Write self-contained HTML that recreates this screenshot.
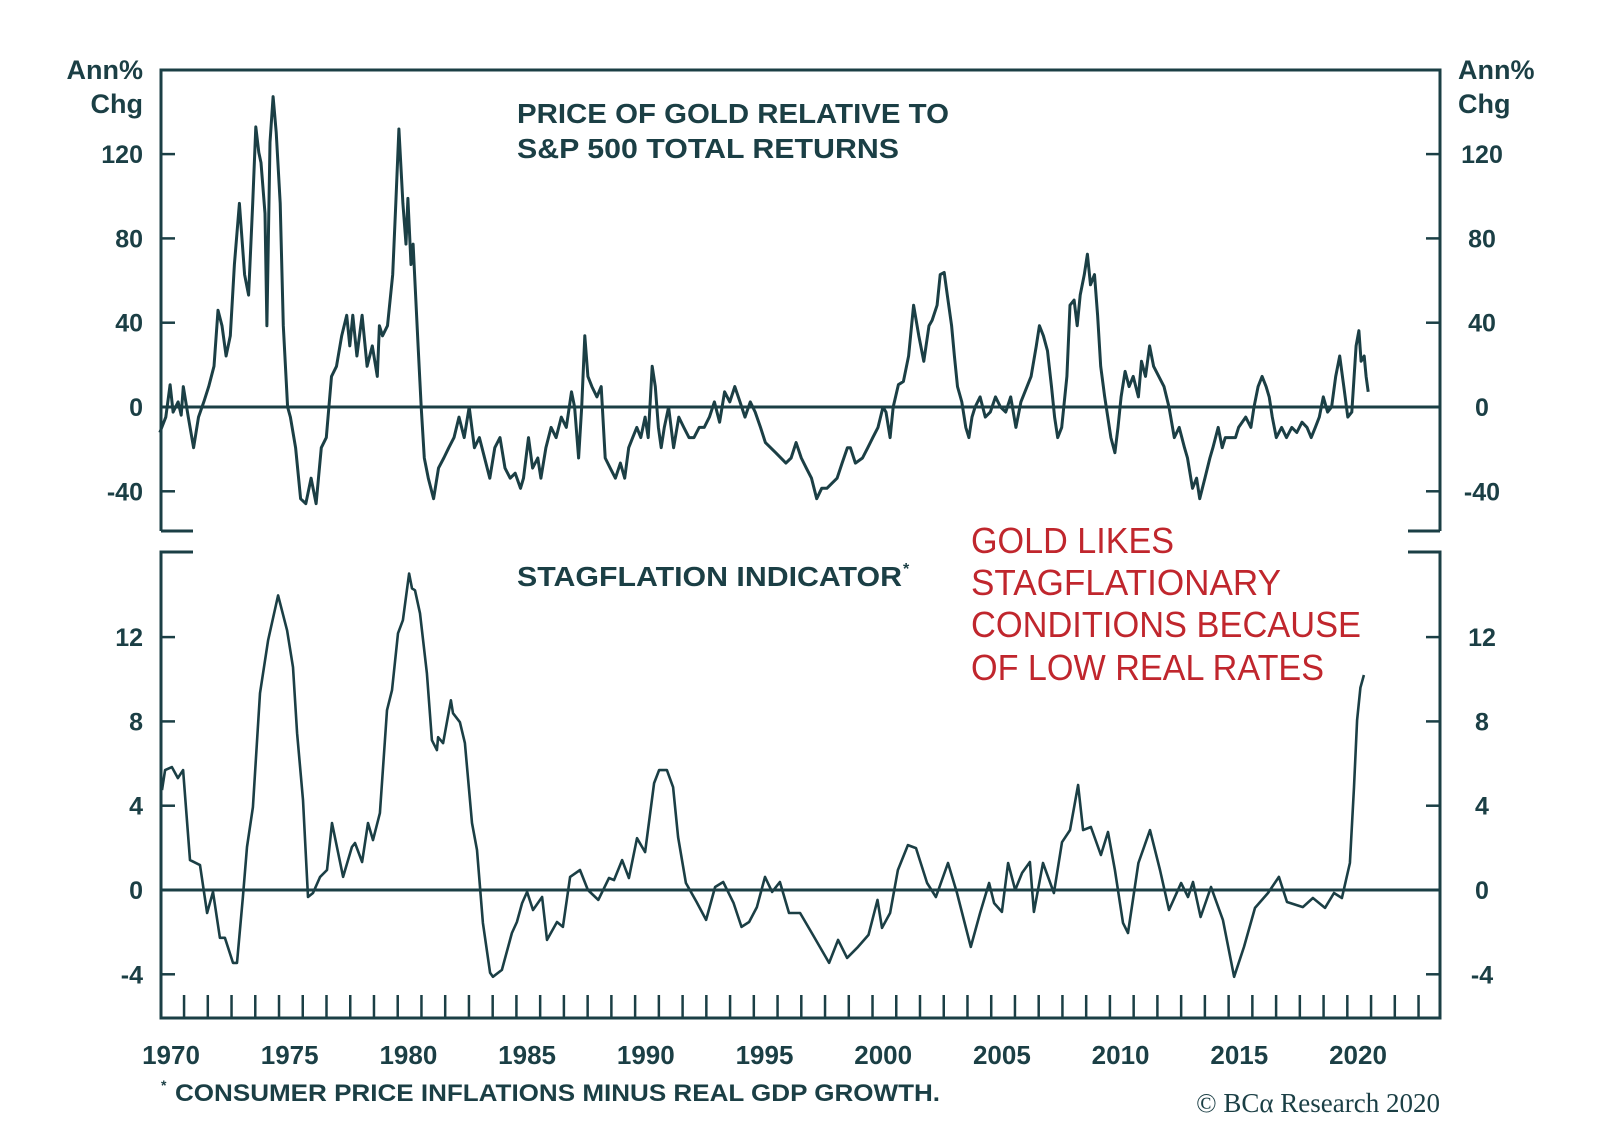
<!DOCTYPE html>
<html><head><meta charset="utf-8"><style>
html,body{margin:0;padding:0;background:#fff;}
svg{display:block;font-family:"Liberation Sans",sans-serif;}
</style></head><body>
<svg id="chart" width="1600" height="1137" viewBox="0 0 1600 1137" xmlns="http://www.w3.org/2000/svg">
<g id="frame" stroke="#1b3f45" stroke-width="3" fill="none">
  <path d="M161,531 L161,70 L1440,70 L1440,531 M161,531 L193,531 M1408,531 L1440,531"/>
  <path d="M193,552 L161,552 L161,1018 L1440,1018 L1440,552 L1408,552"/>
</g>
<g id="ticks" stroke="#1b3f45" stroke-width="2.5"></g>
<g id="labels" fill="#1b3f45" font-weight="bold"></g>
<g id="series" fill="none"></g>

<g fill="#1b3f45" font-weight="bold">
  <text x="143" y="79" font-size="27" text-anchor="end">Ann%</text>
  <text x="143" y="113" font-size="27" text-anchor="end">Chg</text>
  <text x="1458" y="79" font-size="27">Ann%</text>
  <text x="1458" y="113" font-size="27">Chg</text>
  <text x="517" y="123" font-size="28" textLength="432" lengthAdjust="spacingAndGlyphs">PRICE OF GOLD RELATIVE TO</text>
  <text x="517" y="158" font-size="28" textLength="382" lengthAdjust="spacingAndGlyphs">S&amp;P 500 TOTAL RETURNS</text>
  <text x="517" y="586" font-size="28" textLength="385" lengthAdjust="spacingAndGlyphs">STAGFLATION INDICATOR</text>
  <text x="903" y="574" font-size="16">*</text>
  <text x="175" y="1101" font-size="24" textLength="765" lengthAdjust="spacingAndGlyphs">CONSUMER PRICE INFLATIONS MINUS REAL GDP GROWTH.</text>
  <text x="161" y="1090" font-size="14">*</text>
</g>
<g fill="#c0262d" font-size="36">
  <text x="971" y="553" textLength="203" lengthAdjust="spacingAndGlyphs">GOLD LIKES</text>
  <text x="971" y="595" textLength="310" lengthAdjust="spacingAndGlyphs">STAGFLATIONARY</text>
  <text x="971" y="637" textLength="390" lengthAdjust="spacingAndGlyphs">CONDITIONS BECAUSE</text>
  <text x="971" y="680" textLength="353" lengthAdjust="spacingAndGlyphs">OF LOW REAL RATES</text>
</g>
<text x="1440" y="1112" font-family="Liberation Serif, serif" font-size="27" fill="#1b3f45" text-anchor="end">© BCα Research 2020</text>
</svg>
<script>
const goldYears = [1969.53,1969.78,1969.96,1970.09,1970.30,1970.43,1970.52,1970.73,1970.95,1971.16,1971.38,1971.59,1971.81,1971.98,1972.15,1972.32,1972.50,1972.67,1972.88,1973.10,1973.27,1973.44,1973.57,1973.70,1973.79,1973.96,1974.04,1974.17,1974.30,1974.43,1974.60,1974.73,1974.91,1975.03,1975.25,1975.46,1975.68,1975.90,1976.11,1976.33,1976.54,1976.76,1976.97,1977.19,1977.40,1977.53,1977.66,1977.83,1978.05,1978.26,1978.48,1978.69,1978.78,1978.91,1979.12,1979.34,1979.47,1979.60,1979.77,1979.90,1979.98,1980.11,1980.20,1980.41,1980.54,1980.67,1980.84,1981.06,1981.27,1981.49,1981.70,1981.92,1982.13,1982.35,1982.56,1982.78,1982.99,1983.21,1983.43,1983.64,1983.86,1984.07,1984.29,1984.50,1984.72,1984.85,1985.06,1985.23,1985.45,1985.58,1985.79,1986.01,1986.22,1986.44,1986.65,1986.87,1987.00,1987.17,1987.30,1987.43,1987.56,1987.73,1987.94,1988.12,1988.29,1988.50,1988.72,1988.93,1989.11,1989.28,1989.45,1989.62,1989.79,1989.97,1990.10,1990.27,1990.40,1990.53,1990.65,1990.78,1990.96,1991.17,1991.39,1991.60,1991.82,1992.03,1992.25,1992.46,1992.68,1992.89,1993.11,1993.32,1993.54,1993.75,1993.97,1994.18,1994.40,1994.61,1994.83,1995.04,1995.47,1995.90,1996.12,1996.33,1996.55,1996.76,1996.98,1997.20,1997.41,1997.63,1997.84,1998.06,1998.27,1998.49,1998.62,1998.83,1999.13,1999.35,1999.56,1999.78,1999.99,2000.12,2000.29,2000.42,2000.64,2000.85,2001.07,2001.28,2001.50,2001.71,2001.93,2002.06,2002.27,2002.40,2002.57,2002.70,2002.88,2003.00,2003.13,2003.31,2003.48,2003.61,2003.74,2003.87,2004.08,2004.30,2004.51,2004.73,2004.94,2005.16,2005.37,2005.59,2005.80,2006.23,2006.45,2006.58,2006.75,2006.92,2007.09,2007.22,2007.35,2007.52,2007.74,2007.87,2008.04,2008.17,2008.30,2008.47,2008.60,2008.73,2008.90,2009.03,2009.16,2009.33,2009.46,2009.59,2009.76,2009.89,2010.02,2010.19,2010.36,2010.53,2010.75,2010.88,2011.05,2011.22,2011.39,2011.61,2011.83,2012.04,2012.26,2012.47,2012.69,2012.82,2013.03,2013.20,2013.33,2013.55,2013.76,2013.89,2014.11,2014.28,2014.41,2014.84,2014.97,2015.27,2015.49,2015.62,2015.79,2015.96,2016.13,2016.26,2016.39,2016.56,2016.78,2016.99,2017.21,2017.42,2017.64,2017.85,2018.03,2018.20,2018.37,2018.54,2018.72,2018.89,2019.06,2019.23,2019.40,2019.57,2019.74,2019.92,2020.04,2020.13,2020.26,2020.34,2020.43];
const goldValues = [-12.1,-4.8,10.6,-2.4,2.4,-3.9,9.7,-4.8,-19.3,-4.8,2.4,9.7,19.3,45.9,38.6,24.2,33.8,67.6,96.6,62.8,53.1,96.6,132.9,120.8,115.9,91.8,38.6,125.6,147.3,130.4,96.6,38.6,0,-4.8,-19.3,-43.5,-45.9,-33.8,-45.9,-19.3,-14.5,14.5,19.3,33.8,43.5,29,43.5,24.2,43.5,19.3,29,14.5,38.6,33.8,38.6,62.8,96.6,131.9,96.6,77.3,99,67.6,77.3,29,0,-24.2,-33.8,-43.5,-29,-24.2,-19.3,-14.5,-4.8,-14.5,0,-19.3,-14.5,-24.2,-33.8,-19.3,-14.5,-29,-33.8,-31.4,-38.6,-33.8,-14.5,-29,-24.2,-33.8,-19.3,-9.7,-14.5,-4.8,-9.7,7.2,0,-24.2,0,33.8,14.5,9.7,4.8,9.7,-24.2,-29,-33.8,-26.6,-33.8,-19.3,-14.5,-9.7,-14.5,-4.8,-14.5,19.3,9.7,-9.7,-19.3,-9.7,0,-19.3,-4.8,-9.7,-14.5,-14.5,-9.7,-9.7,-4.8,2.4,-7.2,7.2,2.4,9.7,2.4,-4.8,2.4,-2.4,-9.7,-16.9,-21.7,-26.6,-24.2,-16.9,-24.2,-29,-33.8,-43.5,-38.6,-38.6,-36.2,-33.8,-26.6,-19.3,-19.3,-26.6,-24.2,-19.3,-14.5,-9.7,0,-2.4,-14.5,0,10.6,12.1,24.2,48.3,33.8,21.7,38.6,41.1,48.3,62.8,63.8,53.1,38.6,24.2,9.7,2.4,-9.7,-14.5,-4.8,0,4.8,-4.8,-2.4,4.8,0,-2.4,4.8,-9.7,2.4,14.5,29,38.6,33.8,26.6,9.7,-4.8,-14.5,-9.7,14.5,48.3,50.7,38.6,53.1,62.8,72.5,58,62.8,43.5,19.3,4.8,-4.8,-14.5,-21.7,-9.7,4.8,16.9,9.7,14.5,4.8,21.7,14.5,29,19.3,14.5,9.7,0,-14.5,-9.7,-19.3,-24.2,-38.6,-33.8,-43.5,-33.8,-24.2,-19.3,-9.7,-19.3,-14.5,-14.5,-9.7,-4.8,-9.7,0,9.7,14.5,9.7,4.8,-4.8,-14.5,-9.7,-14.5,-9.7,-12.1,-7.2,-9.7,-14.5,-9.7,-4.8,4.8,-2.4,0,14.5,24.2,9.7,-4.8,-2.4,29,36.2,21.7,24.2,14.5,7.2];
const stagYears = [1969.62,1969.75,1970.04,1970.29,1970.51,1970.80,1971.22,1971.52,1971.77,1972.06,1972.27,1972.61,1972.78,1973.03,1973.20,1973.45,1973.75,1974.09,1974.51,1974.89,1975.14,1975.31,1975.56,1975.77,1975.98,1976.28,1976.57,1976.78,1977.25,1977.62,1977.75,1978.05,1978.30,1978.51,1978.80,1979.10,1979.31,1979.56,1979.77,1980.03,1980.15,1980.28,1980.49,1980.78,1980.99,1981.20,1981.25,1981.46,1981.79,1981.88,1982.17,1982.38,1982.68,1982.89,1983.14,1983.44,1983.56,1983.94,1984.36,1984.57,1984.79,1985.00,1985.25,1985.63,1985.84,1986.26,1986.51,1986.81,1987.23,1987.56,1988.00,1988.45,1988.66,1989.00,1989.29,1989.63,1989.97,1990.35,1990.56,1990.89,1991.15,1991.36,1991.69,1992.14,1992.54,1992.92,1993.26,1993.70,1994.03,1994.35,1994.68,1995.02,1995.32,1995.65,1996.03,1996.50,1997.04,1997.72,1998.10,1998.48,1998.94,1999.38,1999.76,1999.95,2000.29,2000.62,2001.04,2001.38,2001.85,2002.22,2002.73,2003.11,2003.69,2004.08,2004.46,2004.67,2005.00,2005.26,2005.56,2005.85,2006.18,2006.35,2006.73,2007.19,2007.53,2007.87,2008.21,2008.42,2008.75,2009.17,2009.47,2009.76,2010.10,2010.31,2010.75,2011.24,2011.66,2012.04,2012.55,2012.84,2013.05,2013.37,2013.81,2014.31,2014.78,2015.20,2015.66,2016.21,2016.67,2017.01,2017.68,2018.10,2018.61,2018.99,2019.32,2019.66,2019.83,2019.96,2020.10,2020.25];
const stagValues = [4.74,5.69,5.83,5.31,5.69,1.42,1.18,-1.09,-0.09,-2.27,-2.27,-3.46,-3.46,-0.33,2.04,3.93,9.34,11.85,13.98,12.32,10.57,7.44,4.27,-0.33,-0.14,0.62,0.95,3.18,0.62,2.04,2.23,1.33,3.18,2.37,3.65,8.53,9.48,12.18,12.8,15.02,14.31,14.22,13.13,10.28,7.11,6.64,7.25,6.97,9.0,8.39,7.96,6.97,3.18,1.9,-1.56,-3.93,-4.12,-3.79,-2.04,-1.52,-0.62,-0.09,-0.95,-0.33,-2.37,-1.52,-1.75,0.62,0.95,0,-0.47,0.57,0.47,1.42,0.57,2.46,1.8,5.07,5.69,5.69,4.88,2.51,0.33,-0.57,-1.42,0.14,0.38,-0.62,-1.75,-1.52,-0.81,0.62,-0.09,0.38,-1.09,-1.09,-2.13,-3.46,-2.37,-3.22,-2.7,-2.13,-0.47,-1.8,-1.09,0.95,2.13,1.99,0.33,-0.33,1.28,-0.14,-2.7,-1.09,0.33,-0.62,-1.04,1.28,0,0.81,1.33,-1.04,1.28,-0.14,2.27,2.84,4.98,2.84,2.99,1.66,2.75,0.95,-1.56,-2.04,1.28,2.84,0.95,-0.95,0.33,-0.33,0.38,-1.28,0.14,-1.42,-4.12,-2.7,-0.85,-0.14,0.62,-0.57,-0.81,-0.38,-0.85,-0.14,-0.38,1.28,4.88,8.06,9.6,10.2];
const goldTicks = [120, 80, 40, 0, -40];
const stagTicks = [12, 8, 4, 0, -4];
const yearLabels = [1970, 1975, 1980, 1985, 1990, 1995, 2000, 2005, 2010, 2015, 2020];

const NS = "http://www.w3.org/2000/svg";
const xOf = yr => 171 + (yr - 1970) * 23.74;
const yGold = v => 407 - v * 2.1075;
const yStag = v => 890 - v * 21.075;

function mk(tag, attrs, parent) {
  const el = document.createElementNS(NS, tag);
  for (const k in attrs) el.setAttribute(k, attrs[k]);
  parent.appendChild(el);
  return el;
}
const ticksG = document.getElementById('ticks');
const labelsG = document.getElementById('labels');
const seriesG = document.getElementById('series');

goldTicks.forEach(v => {
  const y = yGold(v);
  const a = mk('line', {x1: 161, x2: 175, y1: y, y2: y}, ticksG);
  
  
  const b = mk('line', {x1: 1426, x2: 1440, y1: y, y2: y}, ticksG);
  
  
  const t = mk('text', {x: 143, y: y + 9, 'font-size': 25, 'text-anchor': 'end'}, labelsG);
  t.textContent = v;
  
  
  const t2 = mk('text', {x: 1482, y: y + 9, 'font-size': 25, 'text-anchor': 'middle'}, labelsG);
  t2.textContent = v;
  
  
});
stagTicks.forEach(v => {
  const y = yStag(v);
  const a = mk('line', {x1: 161, x2: 175, y1: y, y2: y}, ticksG);
  
  
  const b = mk('line', {x1: 1426, x2: 1440, y1: y, y2: y}, ticksG);
  
  
  const t = mk('text', {x: 143, y: y + 9, 'font-size': 25, 'text-anchor': 'end'}, labelsG);
  t.textContent = v;
  
  
  const t2 = mk('text', {x: 1482, y: y + 9, 'font-size': 25, 'text-anchor': 'middle'}, labelsG);
  t2.textContent = v;
  
  
});
for (let yr = 1970; yr <= 2022; yr++) {
  const x = xOf(yr + 0.55);
  const l = mk('line', {x1: x, x2: x, y1: 995, y2: 1018}, ticksG);
  
  
}
yearLabels.forEach(yr => {
  const t = mk('text', {x: xOf(yr), y: 1064, 'font-size': 26, 'text-anchor': 'middle'}, labelsG);
  t.textContent = yr;
  
  
});
const z1 = mk('line', {x1: 161, x2: 1440, y1: yGold(0), y2: yGold(0), stroke: '#1b3f45', 'stroke-width': 3}, seriesG);


const z2 = mk('line', {x1: 161, x2: 1440, y1: yStag(0), y2: yStag(0), stroke: '#1b3f45', 'stroke-width': 3}, seriesG);



const gp = goldYears.map((yr, i) => xOf(yr).toFixed(1) + ',' + yGold(goldValues[i]).toFixed(1)).join(' ');
const g = mk('polyline', {points: gp, stroke: '#1b3f45', 'stroke-width': 3, 'stroke-linejoin': 'round'}, seriesG);


const sp = stagYears.map((yr, i) => xOf(yr).toFixed(1) + ',' + yStag(stagValues[i]).toFixed(1)).join(' ');
const s = mk('polyline', {points: sp, stroke: '#1b3f45', 'stroke-width': 2.6, 'stroke-linejoin': 'round'}, seriesG);


</script>
</body></html>
